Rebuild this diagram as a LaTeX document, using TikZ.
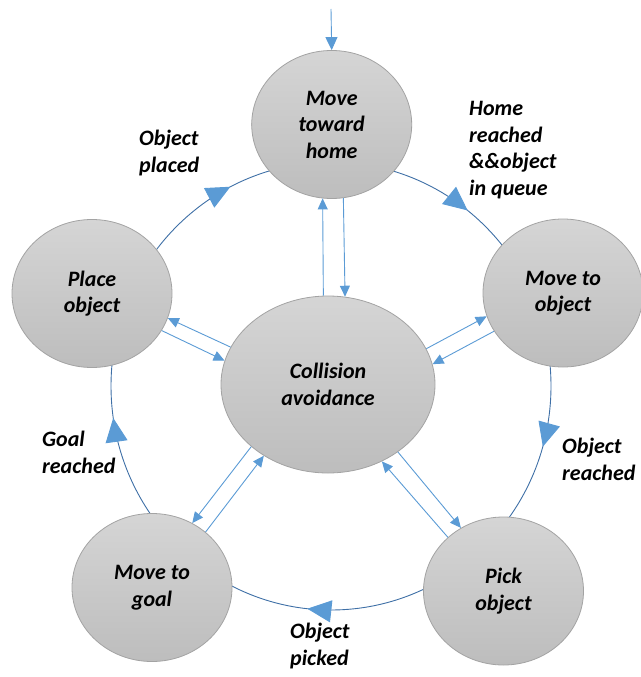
\documentclass[tikz,border=0pt]{standalone}
\usepackage{fontspec}
\setmainfont{Carlito}
\usetikzlibrary{arrows.meta,decorations.markings,shapes.geometric}
\definecolor{linkblue}{HTML}{5B9BD5}
\definecolor{ringblue}{HTML}{3E6FA6}
\definecolor{stateTop}{HTML}{D5D5D5}
\definecolor{stateBot}{HTML}{BDBDBD}
\definecolor{stateEdge}{HTML}{A3A3A3}

\begin{document}
\begin{tikzpicture}[x=1pt,y=-1pt,
  labelfont/.style={font=\fontsize{22}{26.5}\selectfont\bfseries\itshape},
  state/.style={ellipse, draw=stateEdge, line width=0.8pt,
    top color=stateTop, bottom color=stateBot, inner sep=0pt,
    minimum width=160pt, minimum height=148pt, align=center, labelfont},
  % base anchor of a multi-line label sits on its last line
  edgelabel/.style={inner sep=0pt, align=left, anchor=base west, labelfont},
  link/.style={draw=linkblue, line width=0.9pt, -{Triangle[length=11pt,width=10pt]}},
  ring/.style={draw=ringblue, line width=0.9pt},
  ringtip/.tip={Triangle[length=24pt,width=22pt,color=linkblue]}
]
\useasboundingbox (0,0) rectangle (640,677);

% cycle of transitions, clockwise, with one arrowhead on each arc
\path[ring, postaction={decorate}, decoration={markings,
    mark=at position 0.044 with {\arrow{ringtip}},
    mark=at position 0.267 with {\arrow{ringtip}},
    mark=at position 0.477 with {\arrow{ringtip}},
    mark=at position 0.675 with {\arrow{ringtip}},
    mark=at position 0.856 with {\arrow{ringtip}}}]
  (551,386) arc[start angle=0, end angle=360, x radius=220, y radius=224];

% states
\node[state] (home)  at (331.7,124.5) {Move\\toward\\home};
\node[state] (mto)   at (563,293)     {Move to\\object};
\node[state] (pick)  at (503.5,591)   {Pick\\object};
\node[state] (goal)  at (152,587.5)   {Move to\\goal};
\node[state] (place) at (92,293.5)    {Place\\object};
\node[state, minimum width=214pt, minimum height=177pt] (ca) at (328,384.5) {Collision\\avoidance};

% entry arrow
\coordinate (entry) at (331,9);
\draw[link, -{Triangle[length=13pt,width=12pt]}] (entry) -- (home.north);

% links to and from collision avoidance
\draw[link] (ca.93.2)    -- (home.263.2);
\draw[link] (home.279.4) -- (ca.79.6);
\draw[link] (ca.20.6)    -- (mto.197.8);
\draw[link] (mto.209.1)  -- (ca.11.7);
\draw[link] (ca.159.6)   -- (place.342.1);
\draw[link] (place.332.8) -- (ca.167.8);
\draw[link] (ca.219.1)   -- (goal.58.0);
\draw[link] (goal.46.3)  -- (ca.228.1);
\draw[link] (ca.316.5)   -- (pick.124.8);
\draw[link] (pick.136.8) -- (ca.305);

% transition labels
\node[edgelabel] (lplaced)  at (139,172) {Object\\placed};
\node[edgelabel] (lhome)    at (469,195) {Home\\reached\\\&\&object\\in queue};
\node[edgelabel] (lreached) at (562,480) {Object\\reached};
\node[edgelabel] (lpicked)  at (290,665) {Object\\picked};
\node[edgelabel] (lgoal)    at (42,473)  {Goal\\reached};
\end{tikzpicture}
\end{document}
